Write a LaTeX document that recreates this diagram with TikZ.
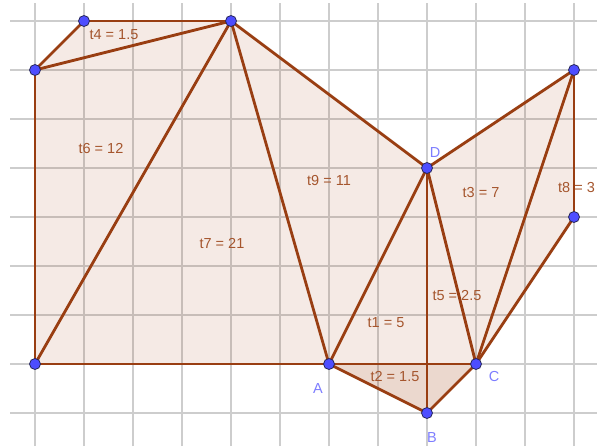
\documentclass[tikz,border=0pt]{standalone}
\usepackage{fontspec}
\setmainfont{Liberation Sans}
\definecolor{edge}{RGB}{153,62,18}
\definecolor{fillc}{RGB}{153,51,0}
\definecolor{labc}{RGB}{165,85,45}
\definecolor{ptfill}{RGB}{77,77,255}
\definecolor{ptline}{RGB}{40,40,90}
\definecolor{ptlabel}{RGB}{125,125,255}
\definecolor{gridc}{RGB}{205,205,205}
\tikzset{
  gridline/.style={draw=gridc, line width=1.4pt},
  tri/.style={fill=fillc, fill opacity=0.1},
  seg/.style={draw=edge, line width=2.8pt, line cap=round},
  pt/.style={circle, fill=ptfill, draw=ptline, line width=0.8pt, minimum size=11pt, inner sep=0pt},
  tlab/.style={text=labc, font=\fontsize{14.5}{16}\selectfont, inner sep=0pt},
  plab/.style={text=ptlabel, font=\fontsize{14.5}{16}\selectfont, inner sep=0pt}
}
\begin{document}
\begin{tikzpicture}[x=49pt,y=49pt]
\useasboundingbox (-0.7143,-1.6735) rectangle (11.4694,7.4286);
% grid
\foreach \i in {0,...,11} \draw[gridline] (\i,-1.6735) -- (\i,7.367);
\foreach \j in {-1,...,7} \draw[gridline] (-0.5102,\j) -- (11.4694,\j);
% vertices
\coordinate (P1) at (0,6);
\coordinate (P2) at (1,7);
\coordinate (P3) at (4,7);
\coordinate (P4) at (0,0);
\coordinate (A) at (6,0);
\coordinate (D) at (8,4);
\coordinate (B) at (8,-1);
\coordinate (C) at (9,0);
\coordinate (E) at (11,6);
\coordinate (F) at (11,3);
% triangle fills
\fill[tri] (P1) -- (P2) -- (P3) -- cycle;
\fill[tri] (P1) -- (P3) -- (P4) -- cycle;
\fill[tri] (P3) -- (A) -- (P4) -- cycle;
\fill[tri] (P3) -- (D) -- (A) -- cycle;
\fill[tri] (A) -- (D) -- (B) -- cycle;
\fill[tri] (D) -- (B) -- (C) -- cycle;
\fill[tri] (A) -- (B) -- (C) -- cycle;
\fill[tri] (D) -- (E) -- (C) -- cycle;
\fill[tri] (E) -- (F) -- (C) -- cycle;
% edges
\draw[seg] (P1) -- (P2);
\draw[seg] (P2) -- (P3);
\draw[seg] (P1) -- (P3);
\draw[seg] (P1) -- (P4);
\draw[seg] (P4) -- (P3);
\draw[seg] (P4) -- (A);
\draw[seg] (P3) -- (A);
\draw[seg] (P3) -- (D);
\draw[seg] (D) -- (A);
\draw[seg] (D) -- (B);
\draw[seg] (D) -- (C);
\draw[seg] (A) -- (B);
\draw[seg] (B) -- (C);
\draw[seg] (A) -- (C);
\draw[seg] (D) -- (E);
\draw[seg] (E) -- (C);
\draw[seg] (E) -- (F);
\draw[seg] (F) -- (C);
% points
\node[pt] (n1) at (P1) {};
\node[pt] (n2) at (P2) {};
\node[pt] (n3) at (P3) {};
\node[pt] (n4) at (P4) {};
\node[pt] (nA) at (A) {};
\node[pt] (nD) at (D) {};
\node[pt] (nB) at (B) {};
\node[pt] (nC) at (C) {};
\node[pt] (nE) at (E) {};
\node[pt] (nF) at (F) {};
% area labels
\node[tlab] (l4) at (1.612,6.714) {t4 = 1.5};
\node[tlab] (l6) at (1.347,4.388) {t6 = 12};
\node[tlab] (l7) at (3.816,2.469) {t7 = 21};
\node[tlab] (l9) at (6.0,3.735) {t9 = 11};
\node[tlab] (l3) at (9.102,3.510) {t3 = 7};
\node[tlab, anchor=west] (l8) at (10.673,3.612) {t8 = 3};
\node[tlab] (l5) at (8.612,1.388) {t5 = 2.5};
\node[tlab] (l1) at (7.163,0.837) {t1 = 5};
\node[tlab] (l2) at (7.347,-0.265) {t2 = 1.5};
% point labels
\node[plab] (lA) at (5.776,-0.490) {A};
\node[plab] (lC) at (9.367,-0.265) {C};
\node[plab] (lB) at (8.102,-1.490) {B};
\node[plab] (lD) at (8.163,4.306) {D};
\end{tikzpicture}
\end{document}
